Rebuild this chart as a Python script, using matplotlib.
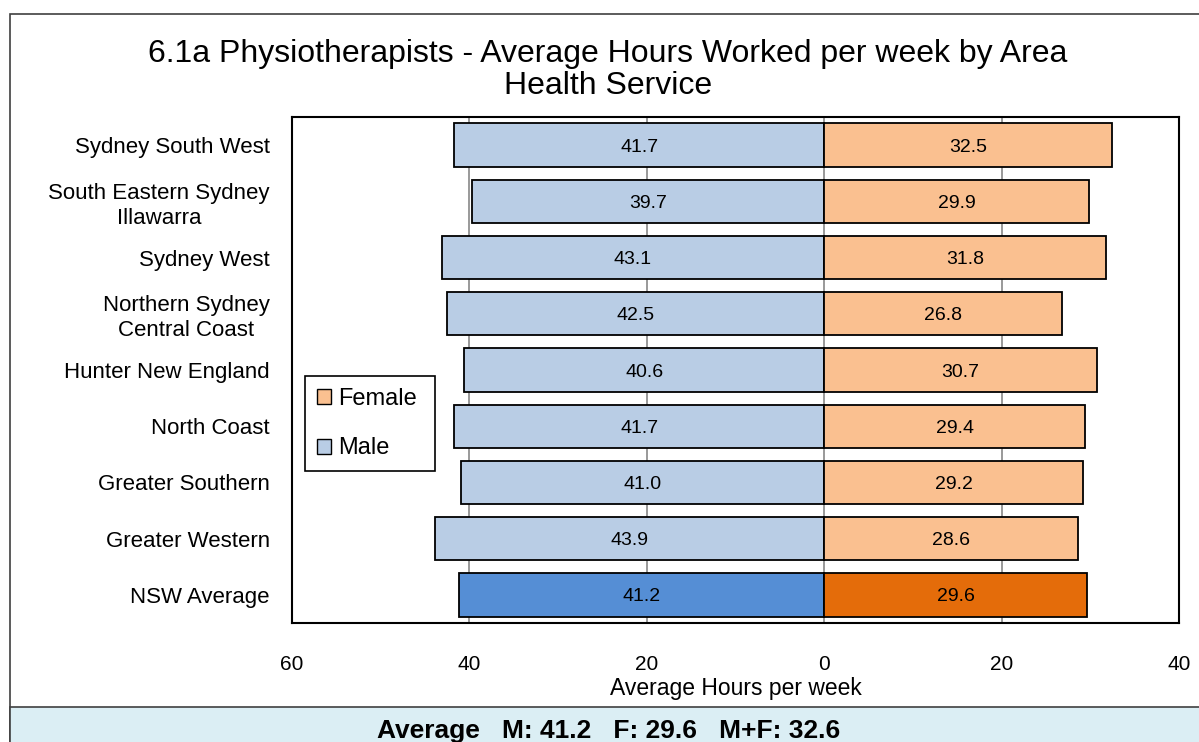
import numpy as np
import matplotlib
matplotlib.use("Agg")
import matplotlib.pyplot as plt
from matplotlib.patches import Rectangle, Patch

plt.rcParams["font.family"] = ["Liberation Sans", "DejaVu Sans"]

AREAS = ["Sydney South West", "South Eastern Sydney\nIllawarra", "Sydney West",
         "Northern Sydney\nCentral Coast", "Hunter New England", "North Coast",
         "Greater Southern", "Greater Western", "NSW Average"]
MALE = [41.7, 39.7, 43.1, 42.5, 40.6, 41.7, 41.0, 43.9, 41.2]
FEMALE = [32.5, 29.9, 31.8, 26.8, 30.7, 29.4, 29.2, 28.6, 29.6]
XTICKS = [-60, -40, -20, 0, 20, 40]
SUMMARY = "Average   M: 41.2   F: 29.6   M+F: 32.6"

M_LIGHT, M_DARK = "#B9CDE5", "#558ED5"
F_LIGHT, F_DARK = "#FAC090", "#E46C0A"

W, H = 1199, 742
fig = plt.figure(figsize=(W / 100, H / 100), dpi=100)

# outer chart frame and the summary strip underneath (behind the axes)
fig.patches.append(Rectangle((10 / W, 0), 1.2, (H - 14) / H, transform=fig.transFigure,
                             facecolor="white", edgecolor="#404040", lw=1.2, zorder=-2))
fig.patches.append(Rectangle((10 / W, -0.1), 1.2, 0.1 + (H - 707) / H, transform=fig.transFigure,
                             facecolor="#DBEEF4", edgecolor="#404040", lw=1.2, zorder=-1))
fig.text(609 / W, 1 - 731 / H, SUMMARY, ha="center", va="center", fontsize=19, fontweight="bold")

ax = fig.add_axes([292 / W, 1 - 623 / H, 887 / W, 506 / H])
y = np.arange(len(AREAS))
n = len(AREAS)
mcol = [M_LIGHT] * (n - 1) + [M_DARK]
fcol = [F_LIGHT] * (n - 1) + [F_DARK]
ax.barh(y, [-v for v in MALE], height=0.77, color=mcol, edgecolor="black", lw=1.3, zorder=3)
ax.barh(y, FEMALE, height=0.77, color=fcol, edgecolor="black", lw=1.3, zorder=3)
for yi, m, f in zip(y, MALE, FEMALE):
    ax.text(-m / 2, yi, f"{m:.1f}", ha="center", va="center_baseline", fontsize=14, zorder=4)
    ax.text(f / 2, yi, f"{f:.1f}", ha="center", va="center_baseline", fontsize=14, zorder=4)

ax.set_xlim(-60, 40)
ax.set_ylim(n - 0.5, -0.5)
ax.set_xticks(XTICKS)
ax.set_xticklabels([str(abs(t)) for t in XTICKS], fontsize=15)
ax.set_yticks(y)
ax.set_yticklabels(AREAS, fontsize=16, multialignment="center", linespacing=1.25)
ax.tick_params(axis="both", length=0)
ax.tick_params(axis="x", pad=23)
ax.tick_params(axis="y", pad=16)
ax.grid(axis="x", color="#888888", lw=1.2, zorder=1)
for s in ax.spines.values():
    s.set_color("black"); s.set_linewidth(1.5)
ax.set_xlabel("Average Hours per week", fontsize=16.5, labelpad=2)

ax.legend(handles=[Patch(facecolor=F_LIGHT, edgecolor="black", label="Female"),
                   Patch(facecolor=M_LIGHT, edgecolor="black", label="Male")],
          loc="lower left", bbox_to_anchor=(0.0147, 0.30, 0.147, 0.19), mode="expand",
          fancybox=False, edgecolor="black", framealpha=1, fontsize=17,
          handlelength=0.6, handleheight=0.6, handletextpad=0.3, labelspacing=1.15,
          borderpad=0.5, borderaxespad=0).get_frame().set_linewidth(1.2)

fig.text(608 / W, 1 - 70 / H, "6.1a Physiotherapists - Average Hours Worked per week by Area\nHealth Service",
         ha="center", va="center", fontsize=23, linespacing=1.1)

fig.savefig("out.png", dpi=100)
